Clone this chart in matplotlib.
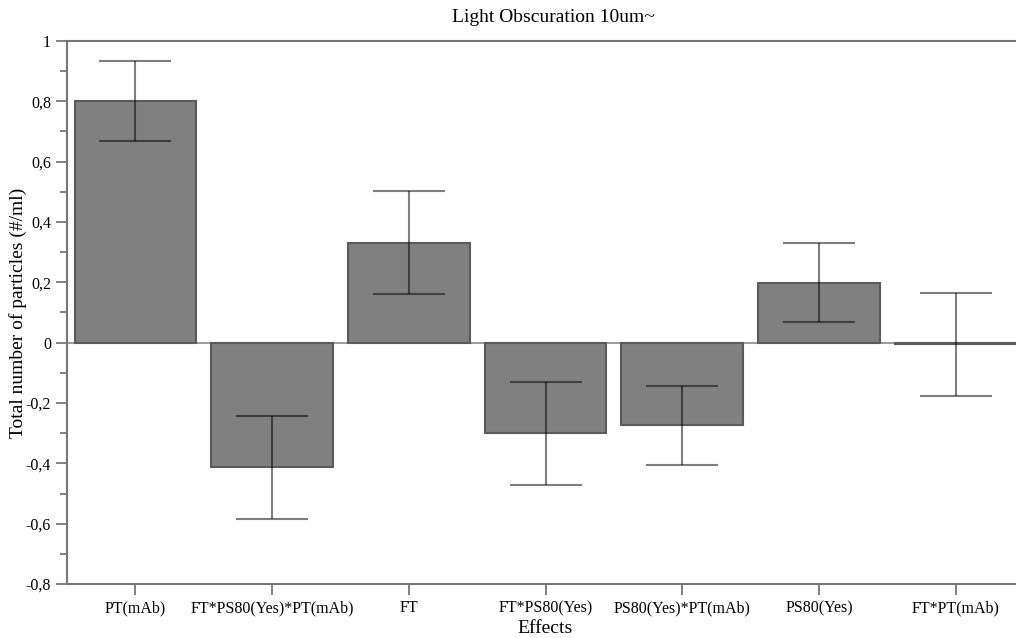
import numpy as np
import matplotlib
matplotlib.use('Agg')
from matplotlib import pyplot as plt
from matplotlib.ticker import MultipleLocator, FuncFormatter

effects = ['PT(mAb)', 'FT*PS80(Yes)*PT(mAb)', 'FT', 'FT*PS80(Yes)',
           'PS80(Yes)*PT(mAb)', 'PS80(Yes)', 'FT*PT(mAb)']
estimate = [0.800, -0.412, 0.332, -0.300, -0.272, 0.197, -0.004]
ci_upper = [0.933, -0.243, 0.504, -0.130, -0.144, 0.330, 0.166]
ci_lower = [0.667, -0.586, 0.162, -0.472, -0.405, 0.068, -0.177]

plt.rcParams['font.family'] = ['Liberation Serif', 'DejaVu Serif']

fig = plt.figure(figsize=(10.16, 6.38), dpi=100)
ax = fig.add_axes([67/1016, 1-584/638, 957/1016, (584-41)/638])

x = np.arange(len(effects))
est = np.array(estimate)
yerr = np.vstack([est-np.array(ci_lower), np.array(ci_upper)-est])

ax.axhline(0, color='#8a8a8a', lw=1.2, zorder=1)
ax.bar(x, est, width=0.89, color='#808080', edgecolor='#5a5a5a', linewidth=1.5, zorder=2)
ax.errorbar(x, est, yerr=yerr, fmt='none', ecolor='black', alpha=0.5,
            elinewidth=1.5, capsize=26, capthick=1.5, zorder=3)

ax.set_xlim(-0.5, 6.5)
ax.set_ylim(-0.8, 1.0)
ax.set_xticks(x)
ax.set_xticklabels(effects, fontsize=11.5)
ax.yaxis.set_major_locator(MultipleLocator(0.2))
ax.yaxis.set_minor_locator(MultipleLocator(0.1))

def comma_fmt(v, pos):
    if abs(v) < 1e-9:
        return '0'
    if abs(v-round(v)) < 1e-9:
        return '%d' % round(v)
    return ('%.1f' % v).replace('.', ',')

ax.yaxis.set_major_formatter(FuncFormatter(comma_fmt))
ax.tick_params(axis='y', labelsize=11.5)
ax.tick_params(which='major', direction='out', length=8, width=1.3, color='#777777')
ax.tick_params(which='minor', direction='out', length=5, width=1.3, color='#777777')

for s in ['left', 'top', 'bottom']:
    ax.spines[s].set_color('#777777')
    ax.spines[s].set_linewidth(1.5)
ax.spines['right'].set_visible(False)

ax.set_title('Light Obscuration 10um~', fontsize=14, x=0.508, pad=14)
ax.set_xlabel('Effects', fontsize=14, labelpad=3)
ax.set_ylabel('Total number of particles (#/ml)', fontsize=14, labelpad=-1)

fig.savefig('out.png', dpi=100)
